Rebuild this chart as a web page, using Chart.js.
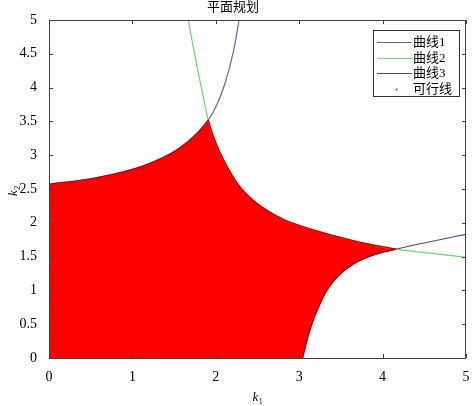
<!DOCTYPE html>
<html>
<head>
<meta charset="utf-8">
<script src="https://cdn.jsdelivr.net/npm/chart.js@4/dist/chart.umd.min.js"></script>
<style>
html, body { margin: 0; padding: 0; background: #fff; }
</style>
</head>
<body>
<canvas id="chart" width="472" height="406"></canvas>
<script>
// values
const xTicks = [0, 1, 2, 3, 4, 5];
const yTicks = [0, 0.5, 1, 1.5, 2, 2.5, 3, 3.5, 4, 4.5, 5];

const seriesNames = ['曲线1', '曲线2', '曲线3', '可行线'];

const curve1K1 = [0, 0.55, 1.15, 1.55, 1.79, 1.91, 2.01, 2.11, 2.21, 2.28];
const curve1K2 = [2.57, 2.66, 2.85, 3.09, 3.34, 3.52, 3.74, 4.06, 4.53, 5.0];

const curve2K1 = [1.67, 1.73, 1.80, 1.86, 1.91, 1.97, 2.05, 2.15, 2.29, 2.50, 2.81, 3.21, 3.67, 4.16, 4.57, 5.0];
const curve2K2 = [5.0, 4.60, 4.16, 3.80, 3.52, 3.28, 3.04, 2.80, 2.53, 2.28, 2.05, 1.88, 1.73, 1.61, 1.55, 1.49];

const curve3K1 = [3.04, 3.09, 3.15, 3.23, 3.33, 3.47, 3.66, 3.90, 4.16, 4.57, 5.0];
const curve3K2 = [0, 0.25, 0.5, 0.75, 1.0, 1.22, 1.40, 1.53, 1.61, 1.72, 1.83];

// corners of the feasible region (where the curves cross)
const cornerTop = 1.91;
const cornerRight = 4.16;

const pts = (xs, ys) => xs.map((x, i) => ({x: x, y: ys[i]}));

const c1 = pts(curve1K1, curve1K2);
const c2 = pts(curve2K1, curve2K2);
const c3 = pts(curve3K1, curve3K2);

const i1 = curve1K1.indexOf(cornerTop);
const i2a = curve2K1.indexOf(cornerTop);
const i2b = curve2K1.indexOf(cornerRight);
const i3 = curve3K1.indexOf(cornerRight);

const red = '#ff0000';
const edge = '#b80000';

const lineDefaults = {
  borderWidth: 1.2,
  pointRadius: 0,
  fill: false,
  cubicInterpolationMode: 'monotone',
  order: 3
};
const edgeDefaults = {
  borderColor: edge,
  borderWidth: 1.3,
  pointRadius: 0,
  fill: false,
  cubicInterpolationMode: 'monotone',
  order: 2
};

// fills the feasible region, walking along the edge datasets' own paths
const region = {
  id: 'region',
  beforeDatasetsDraw(chart) {
    const {ctx, chartArea: a, scales: {x, y}} = chart;
    ctx.save();
    ctx.beginPath();
    ctx.rect(a.left, a.top, a.right - a.left, a.bottom - a.top);
    ctx.clip();
    ctx.beginPath();
    ctx.moveTo(x.getPixelForValue(0), y.getPixelForValue(0));
    chart.data.datasets.forEach((d, i) => {
      if (!d.regionEdge) return;
      const line = chart.getDatasetMeta(i).dataset;
      line.updateControlPoints(a, 'x');
      line.segments.forEach(seg => {
        line.pathSegment(ctx, seg, {move: false, reverse: d.regionEdge === 'back'});
      });
    });
    ctx.closePath();
    ctx.fillStyle = red;
    ctx.fill();
    ctx.restore();
  }
};

const frame = {
  id: 'frame',
  afterDatasetsDraw(chart) {
    const {ctx, chartArea: a, scales: {x, y}} = chart;
    ctx.save();
    ctx.strokeStyle = '#404040';
    ctx.lineWidth = 1;
    ctx.beginPath();
    xTicks.forEach(v => {
      const px = Math.round(x.getPixelForValue(v)) + 0.5;
      ctx.moveTo(px, a.bottom); ctx.lineTo(px, a.bottom - 4);
      ctx.moveTo(px, a.top); ctx.lineTo(px, a.top + 4);
    });
    yTicks.forEach(v => {
      const py = Math.round(y.getPixelForValue(v)) + 0.5;
      ctx.moveTo(a.left, py); ctx.lineTo(a.left + 4, py);
      ctx.moveTo(a.right, py); ctx.lineTo(a.right - 4, py);
    });
    ctx.stroke();
    ctx.strokeRect(a.left + 0.5, a.top + 0.5, a.right - a.left - 1, a.bottom - a.top);
    ctx.restore();
  },
  afterDraw(chart) {
    const {ctx, chartArea: a} = chart;
    ctx.save();
    ctx.fillStyle = '#000';
    ctx.textBaseline = 'alphabetic';
    ctx.textAlign = 'left';
    // x title k1
    ctx.font = "italic 13px 'Liberation Serif'";
    const kw = ctx.measureText('k').width;
    const cx = (a.left + a.right) / 2 - 5;
    ctx.fillText('k', cx, 401);
    ctx.font = "8px 'Liberation Serif'";
    ctx.fillText('1', cx + kw + 0.5, 404);
    // y title k2
    ctx.translate(17, (a.top + a.bottom) / 2 + 7);
    ctx.rotate(-Math.PI / 2);
    ctx.font = "italic 13px 'Liberation Serif'";
    ctx.fillText('k', 0, 0);
    ctx.font = "8px 'Liberation Serif'";
    ctx.fillText('2', kw + 0.5, 3);
    ctx.restore();

    // legend box
    const items = chart.data.datasets.filter(d => d.inLegend);
    const left = a.right - 93, top = a.top + 10;
    const w = 86, h = 66;
    ctx.save();
    ctx.fillStyle = '#fff';
    ctx.fillRect(left, top, w, h);
    ctx.strokeStyle = '#333';
    ctx.lineWidth = 1;
    ctx.strokeRect(left + 0.5, top + 0.5, w, h);
    ctx.font = "13px 'Liberation Serif', 'Noto Sans CJK SC'";
    ctx.textBaseline = 'middle';
    items.forEach((d, i) => {
      const cy = Math.round(top + 12 + i * 15.5) + 0.5;
      if (d.legendDot) {
        ctx.fillStyle = '#7a4040';
        ctx.beginPath();
        ctx.arc(left + 23.5, cy, 1, 0, Math.PI * 2);
        ctx.fill();
      } else {
        ctx.strokeStyle = d.borderColor;
        ctx.lineWidth = 1.2;
        ctx.beginPath();
        ctx.moveTo(left + 4, cy); ctx.lineTo(left + 39, cy);
        ctx.stroke();
      }
      ctx.fillStyle = '#000';
      ctx.fillText(d.label, left + 40, cy);
    });
    ctx.restore();
  }
};

new Chart(document.getElementById('chart'), {
  type: 'line',
  data: {
    datasets: [
      Object.assign({label: seriesNames[0], data: c1, borderColor: '#6464b0', inLegend: true}, lineDefaults),
      Object.assign({label: seriesNames[1], data: c2, borderColor: '#66d866', inLegend: true}, lineDefaults),
      Object.assign({label: seriesNames[2], data: c3, borderColor: '#4a4a84', inLegend: true}, lineDefaults),
      Object.assign({label: seriesNames[3], data: c1.slice(0, i1 + 1), regionEdge: 'fwd', inLegend: true, legendDot: true}, edgeDefaults),
      Object.assign({label: '', data: c2.slice(i2a, i2b + 1), regionEdge: 'fwd'}, edgeDefaults),
      Object.assign({label: '', data: c3.slice(0, i3 + 1), regionEdge: 'back'}, edgeDefaults)
    ]
  },
  options: {
    responsive: false,
    animation: false,
    layout: { padding: { right: 6 } },
    plugins: {
      legend: { display: false },
      tooltip: { enabled: false },
      title: {
        display: true,
        text: '平面规划',
        color: '#000',
        font: { family: "'Liberation Serif', 'Noto Sans CJK SC'", size: 13, weight: 'normal' },
        padding: { top: 0, bottom: 4.4 }
      }
    },
    scales: {
      x: {
        type: 'linear', min: 0, max: 5,
        afterBuildTicks: s => { s.ticks = xTicks.map(v => ({value: v})); },
        afterFit: s => { s.height = 48; s.paddingLeft = 0; s.paddingRight = 0; },
        grid: { display: false },
        border: { display: false },
        ticks: {
          color: '#000', padding: 3,
          font: { family: "'Liberation Serif'", size: 14 },
          callback: v => String(v)
        }
      },
      y: {
        type: 'linear', min: 0, max: 5,
        afterBuildTicks: s => { s.ticks = yTicks.map(v => ({value: v})); },
        afterFit: s => { s.width = 49; s.paddingTop = 0; s.paddingBottom = 0; },
        grid: { display: false },
        border: { display: false },
        ticks: {
          color: '#000', padding: 4,
          font: { family: "'Liberation Serif'", size: 14 },
          callback: v => String(v)
        }
      }
    }
  },
  plugins: [region, frame]
});
</script>
</body>
</html>
